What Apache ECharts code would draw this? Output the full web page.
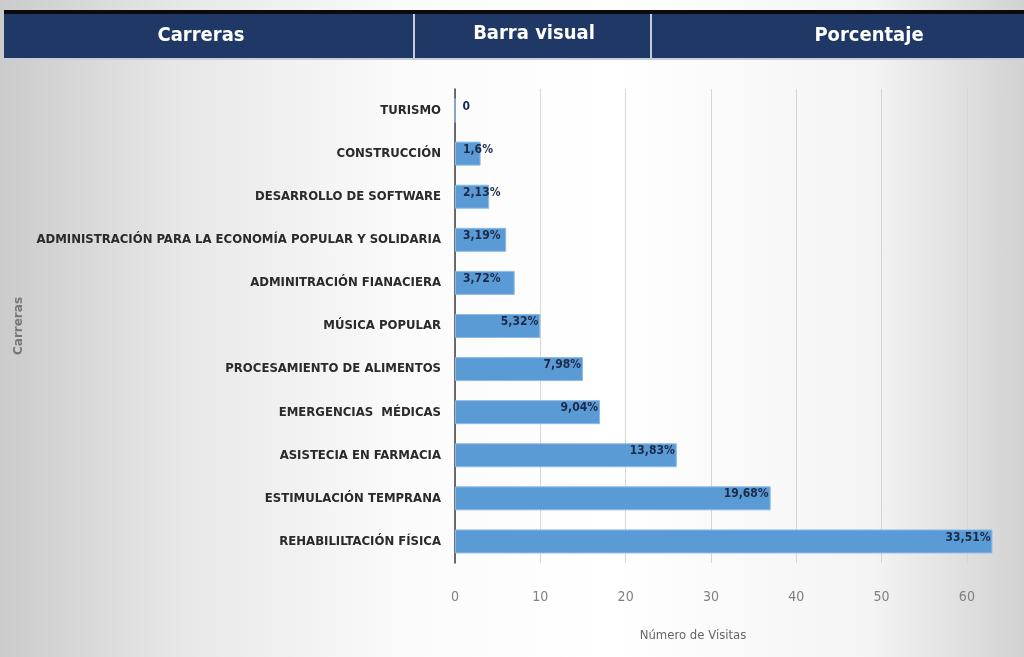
<!DOCTYPE html>
<html>
<head>
<meta charset="utf-8">
<script src="https://cdn.jsdelivr.net/npm/echarts@6/dist/echarts.min.js"></script>
<style>
html,body{margin:0;padding:0;background:#fff;}
#chart{width:1024px;height:657px;background:linear-gradient(to right,#cbcbcb 0%,#e8e8e8 18%,#fbfbfb 40%,#ffffff 60%,#f4f4f4 85%,#d2d2d2 100%);}
</style>
</head>
<body>
<div id="chart"></div>
<script>
// categorias de abajo hacia arriba (orden del eje)
var carreras = ['REHABILILTACIÓN FÍSICA','ESTIMULACIÓN TEMPRANA','ASISTECIA EN FARMACIA','EMERGENCIAS  MÉDICAS',
  'PROCESAMIENTO DE ALIMENTOS','MÚSICA POPULAR','ADMINITRACIÓN FIANACIERA',
  'ADMINISTRACIÓN PARA LA ECONOMÍA POPULAR Y SOLIDARIA','DESARROLLO DE SOFTWARE','CONSTRUCCIÓN','TURISMO'];
var visitas = [63, 37, 26, 17, 15, 10, 7, 6, 4, 3, 0];
var porcentajes = ['33,51%','19,68%','13,83%','9,04%','7,98%','5,32%','3,72%','3,19%','2,13%','1,6%','0'];
var encabezados = ['Carreras','Barra visual','Porcentaje'];

var narrow = "'DejaVu Sans Condensed','Liberation Sans Narrow',sans-serif";
var chart = echarts.init(document.getElementById('chart'));

var option = {
  animation: false,
  grid: {left: 455, right: 23, top: 89, bottom: 94, containLabel: false, outerBoundsMode: 'none'},
  graphic: [
    {type:'rect', shape:{x:4,y:10,width:1020,height:4}, style:{fill:'#0b0b0b'}},
    {type:'rect', shape:{x:4,y:14,width:1020,height:44}, style:{fill:'#1f3865'}},
    {type:'rect', shape:{x:4,y:58,width:1020,height:2}, style:{fill:'#c9ced6'}},
    {type:'rect', shape:{x:413,y:14,width:2,height:46}, style:{fill:'#c4ccd8'}},
    {type:'rect', shape:{x:650,y:14,width:2,height:46}, style:{fill:'#c4ccd8'}},
    {type:'text', x:201, y:36, style:{text:encabezados[0], fill:'#fff', font:'bold 20px ' + narrow, align:'center', verticalAlign:'middle'}},
    {type:'text', x:534, y:34, style:{text:encabezados[1], fill:'#fff', font:'bold 20px ' + narrow, align:'center', verticalAlign:'middle'}},
    {type:'text', x:869, y:36, style:{text:encabezados[2], fill:'#fff', font:'bold 20px ' + narrow, align:'center', verticalAlign:'middle'}}
  ],
  xAxis: {
    type: 'value',
    min: 0, max: 64, interval: 10,
    name: 'Número de Visitas',
    nameLocation: 'middle',
    nameGap: 66,
    nameTextStyle: {color:'#666', fontSize:13, fontFamily:narrow, padding:[0,70,0,0]},
    axisLine: {show:false},
    axisTick: {show:false},
    axisLabel: {color:'#808080', fontSize:14, fontFamily:narrow, margin:27, showMaxLabel:false},
    splitLine: {lineStyle:{color:'#d6d6d6', width:1}}
  },
  yAxis: {
    type: 'category',
    data: carreras,
    name: 'Carreras',
    nameLocation: 'middle',
    nameRotate: 90,
    nameGap: 430,
    nameTextStyle: {color:'#777', fontSize:12, fontWeight:'bold', fontFamily:'DejaVu Sans'},
    axisLine: {lineStyle:{color:'#404040', width:1.5}},
    axisTick: {show:false},
    axisLabel: {color:'#2a2a2a', fontSize:13, fontWeight:'bold', fontFamily:narrow, margin:14}
  },
  series: [{
    type: 'bar',
    barWidth: 24,
    itemStyle: {color:'#5b9bd5', borderColor:'#8dbbe6', borderWidth:1},
    label: {
      show: true,
      position: 'insideRight',
      distance: 2,
      offset: [0,-4],
      color: '#1c2a4a',
      fontSize: 12,
      fontWeight: 'bold',
      fontFamily: narrow,
      formatter: function(p){ return porcentajes[p.dataIndex]; }
    },
    data: visitas.map(function(v){
      if (v <= 7) return {value:v, label:{position:'insideLeft', distance:8}};
      return v;
    })
  }]
};
chart.setOption(option);
</script>
</body>
</html>
